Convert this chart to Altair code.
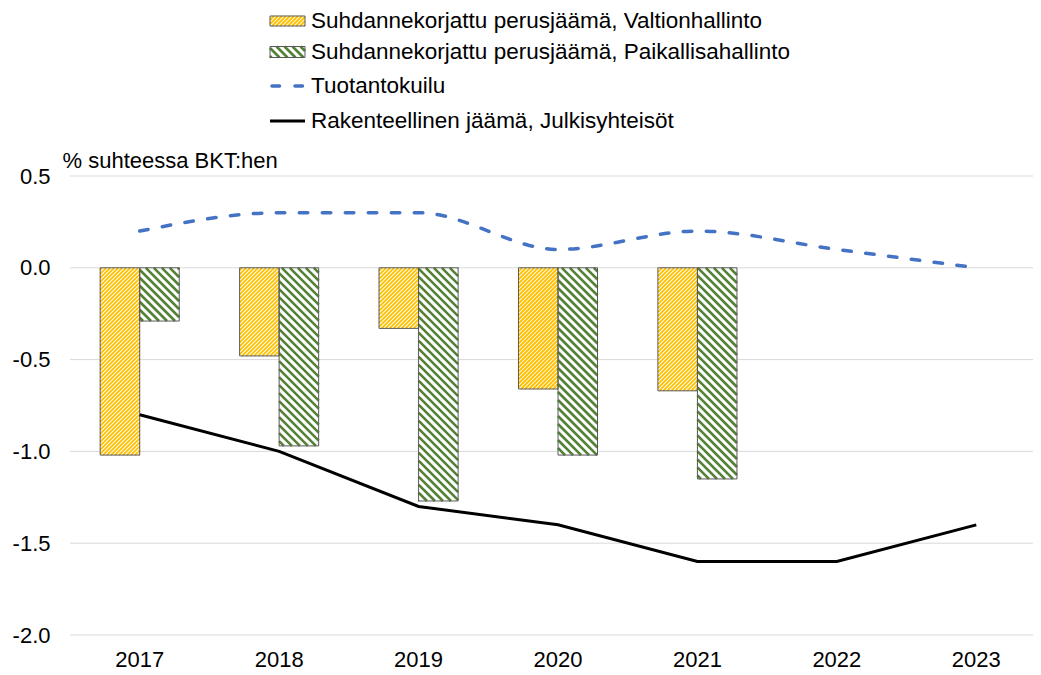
import math
import altair as alt
import pandas as pd

# ---------------- data ----------------
years = ["2017", "2018", "2019", "2020", "2021", "2022", "2023"]
bar_years = ["2017", "2018", "2019", "2020", "2021"]
valtionhallinto = [-1.02, -0.48, -0.33, -0.66, -0.67]
paikallishallinto = [-0.29, -0.97, -1.27, -1.02, -1.15]
tuotantokuilu = [0.2, 0.3, 0.3, 0.1, 0.2, 0.1, 0.0]
rakenteellinen = [-0.8, -1.0, -1.3, -1.4, -1.6, -1.6, -1.4]
series_names = [
    "Suhdannekorjattu perusjäämä, Valtionhallinto",
    "Suhdannekorjattu perusjäämä, Paikallisahallinto",
    "Tuotantokuilu",
    "Rakenteellinen jäämä, Julkisyhteisöt",
]
y_ticks = [-2.0, -1.5, -1.0, -0.5, 0.0, 0.5]
y_title = "% suhteessa BKT:hen"

# ---------------- layout / style ----------------
FONT = "Liberation Sans"
FS = 22
FS_LEG = 22.5
PLOT_W = 963
X_RANGE = 976
PLOT_H = 459
Y_MIN, Y_MAX = -2.0, 0.5
PAD_IN = 0.433
YELLOW = "#FFC000"
GREEN = "#548235"
BLUE = "#4472C4"
EDGE = "#595959"
GRID = "#d9d9d9"

n_cat = len(years)
step = X_RANGE / n_cat
bar_w = step * (1 - PAD_IN) / 2
ppu = PLOT_H / (Y_MAX - Y_MIN)   # pixels per data unit

# hatch styles: (period along x in px, line width px, colour, direction)
HATCH = [(4.0, 1.85, YELLOW, "up"), (8.0, 2.6, GREEN, "down")]


def to_units(px, py):
    """plot pixel -> (category-index units, data units)"""
    return px / step - 0.5, Y_MAX - py / ppu


def hatch_segments(x0, x1, y0, y1, period, direction):
    segs = []
    if direction == "up":          # lines X + Y = c  ('/')
        c = math.ceil((x0 + y0) / period) * period
        while c < x1 + y1:
            xa, xb = max(x0, c - y1), min(x1, c - y0)
            if xb - xa > 0.05:
                segs.append((xa, c - xa, xb, c - xb))
            c += period
    else:                          # lines X - Y = c  ('\')
        c = math.ceil((x0 - y1) / period) * period
        while c < x1 - y0:
            xa, xb = max(x0, c + y0), min(x1, c + y1)
            if xb - xa > 0.05:
                segs.append((xa, xa - c, xb, xb - c))
            c += period
    rows = []
    for xa, ya, xb, yb in segs:
        ua, va = to_units(xa, ya)
        ub, vb = to_units(xb, yb)
        rows.append({"xa": ua, "ya": va, "xb": ub, "yb": vb})
    return rows


bars_df = pd.DataFrame(
    {"year": bar_years * 2,
     "series": [series_names[0]] * len(bar_years) + [series_names[1]] * len(bar_years),
     "value": valtionhallinto + paikallishallinto}
)
tuot_df = pd.DataFrame({"year": years, "value": tuotantokuilu})
rak_df = pd.DataFrame({"year": years, "value": rakenteellinen})
ticks_df = pd.DataFrame({"tick": y_ticks})

# legend geometry (plot pixels)
LX0, LX1, LTX = 200, 235, 241
row_y = [-155, -124, -90, -55]
sym_h = [10, 11]

hatch_rows = [[], []]
for s_idx, vals in enumerate([valtionhallinto, paikallishallinto]):
    period, lw, color, direction = HATCH[s_idx]
    for yr, v in zip(bar_years, vals):
        i = years.index(yr)
        cx = (i + 0.5) * step
        bx0, bx1 = (cx - bar_w, cx) if s_idx == 0 else (cx, cx + bar_w)
        py_zero = (Y_MAX - 0.0) * ppu
        py_val = (Y_MAX - v) * ppu
        hatch_rows[s_idx] += hatch_segments(bx0, bx1, min(py_zero, py_val), max(py_zero, py_val),
                                            period, direction)
    hatch_rows[s_idx] += hatch_segments(LX0, LX1, row_y[s_idx] - sym_h[s_idx] / 2,
                                        row_y[s_idx] + sym_h[s_idx] / 2, period, direction)

minus = "\u2212"
y_scale = alt.Scale(domain=[Y_MIN, Y_MAX], nice=False, zero=False)
y_axis = alt.Axis(values=y_ticks, labelExpr=f"replace(format(datum.value, '.1f'), '{minus}', '-')",
                  grid=False, domain=False, ticks=False,
                  labelPadding=20, labelFontSize=FS, labelColor="#000000", labelFont=FONT,
                  title=y_title, titleAngle=0, titleX=-8, titleY=-16, titleAlign="left",
                  titleBaseline="middle", titleFontSize=FS, titleFontWeight="normal",
                  titleColor="#000000", titleFont=FONT)
x_scale = alt.Scale(domain=years, range=[0, X_RANGE], paddingInner=PAD_IN, paddingOuter=PAD_IN / 2)
x_axis = alt.Axis(labelAngle=0, domain=False, ticks=False, grid=False, labelPadding=14,
                  labelFontSize=FS, labelColor="#000000", labelFont=FONT)
x_enc_axis = alt.X("year:N", scale=x_scale, axis=x_axis, title=None)
x_enc = alt.X("year:N", scale=x_scale, axis=None, title=None)
y_enc = alt.Y("value:Q", scale=y_scale, axis=y_axis)
xoff_enc = alt.XOffset("series:N", scale=alt.Scale(domain=series_names[:2], paddingInner=0, paddingOuter=0))
xq_scale = alt.Scale(domain=[-0.5, n_cat - 0.5], range=[0, X_RANGE], nice=False, zero=False)

layers = []
# horizontal gridlines at the tick values
layers.append(
    alt.Chart(ticks_df).mark_rule(color=GRID, strokeWidth=1)
    .encode(y=alt.Y("tick:Q", scale=y_scale, axis=y_axis), x=alt.value(0), x2=alt.value(PLOT_W))
)
layers.append(
    alt.Chart(bars_df).mark_bar(fill="#ffffff", strokeWidth=0)
    .encode(x=x_enc_axis, xOffset=xoff_enc, y=y_enc)
)
for s_idx in range(2):
    layers.append(
        alt.Chart(pd.DataFrame({"k": [0]})).mark_rect(fill="#ffffff", strokeWidth=0)
        .encode(x=alt.value(LX0), x2=alt.value(LX1),
                y=alt.value(row_y[s_idx] - sym_h[s_idx] / 2), y2=alt.value(row_y[s_idx] + sym_h[s_idx] / 2))
    )
for s_idx in range(2):
    period, lw, color, direction = HATCH[s_idx]
    layers.append(
        alt.Chart(pd.DataFrame(hatch_rows[s_idx])).mark_rule(color=color, strokeWidth=lw, strokeCap="butt")
        .encode(x=alt.X("xa:Q", scale=xq_scale, axis=None), x2="xb:Q",
                y=alt.Y("ya:Q", scale=y_scale, axis=y_axis), y2="yb:Q")
    )
layers.append(
    alt.Chart(bars_df).mark_bar(fill="transparent", stroke=EDGE, strokeWidth=1)
    .encode(x=x_enc, xOffset=xoff_enc, y=y_enc)
)
for s_idx in range(2):
    layers.append(
        alt.Chart(pd.DataFrame({"k": [0]})).mark_rect(fill="transparent", stroke=EDGE, strokeWidth=1)
        .encode(x=alt.value(LX0), x2=alt.value(LX1),
                y=alt.value(row_y[s_idx] - sym_h[s_idx] / 2), y2=alt.value(row_y[s_idx] + sym_h[s_idx] / 2))
    )
layers.append(
    alt.Chart(tuot_df).mark_line(color=BLUE, strokeWidth=3.5, strokeDash=[8.5, 14.5],
                                 strokeCap="round", interpolate="monotone")
    .encode(x=x_enc, y=y_enc)
)
layers.append(alt.Chart(rak_df).mark_line(color="#000000", strokeWidth=3).encode(x=x_enc, y=y_enc))
one = pd.DataFrame({"k": [0]})
layers.append(
    alt.Chart(one).mark_rule(color=BLUE, strokeWidth=3.5, strokeDash=[7.5, 15.5], strokeCap="round")
    .encode(x=alt.value(LX0 + 2), x2=alt.value(LX1 - 2), y=alt.value(row_y[2]))
)
layers.append(
    alt.Chart(one).mark_rule(color="#000000", strokeWidth=3)
    .encode(x=alt.value(LX0), x2=alt.value(LX1), y=alt.value(row_y[3]))
)
for i, name in enumerate(series_names):
    layers.append(
        alt.Chart(pd.DataFrame({"name": [name]}))
        .mark_text(align="left", baseline="middle", fontSize=FS_LEG, font=FONT, color="#000000")
        .encode(x=alt.value(LTX), y=alt.value(row_y[i]), text="name:N")
    )

chart = (
    alt.layer(*layers)
    .resolve_scale(x="independent")
    .properties(
        width=PLOT_W,
        height=PLOT_H,
        autosize=alt.AutoSizeParams(type="none"),
        padding={"left": 62, "top": 168, "right": 0, "bottom": 35},
    )
    .configure(font=FONT)
    .configure_axis(domain=False, grid=False)
    .configure_view(stroke="transparent", strokeWidth=0)
)

chart.save("out.html", embed_options={"renderer": "svg", "actions": False})
